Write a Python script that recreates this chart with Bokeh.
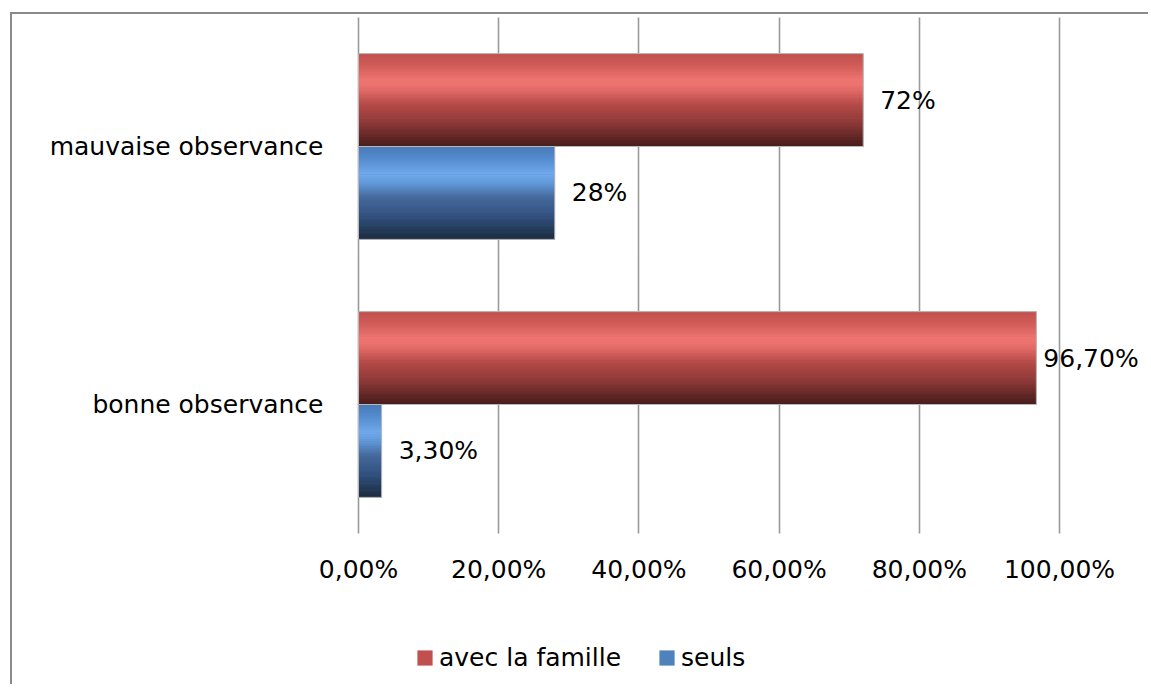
from bokeh.plotting import figure
from bokeh.models import (ColumnDataSource, Range1d, FixedTicker,
                          LabelSet, Legend, LegendItem)
from bokeh.core.properties import value
from bokeh.embed import file_html
from bokeh.resources import INLINE

# ---------------- data ----------------
categories = ["mauvaise observance", "bonne observance"]
avec_famille = [0.72, 0.967]
seuls = [0.28, 0.033]
avec_famille_labels = ["72%", "96,70%"]
seuls_labels = ["28%", "3,30%"]
tick_values = [0.0, 0.2, 0.4, 0.6, 0.8, 1.0]
tick_labels = ["0,00%", "20,00%", "40,00%", "60,00%", "80,00%", "100,00%"]
series_names = ["avec la famille", "seuls"]

# ---------------- style ----------------
FONT = "DejaVu Sans"
FS = "25px"
BAR_H = 0.36
N_STRIPS = 40

red_stops = [(0.0, "#c0504d"), (0.12, "#cf5b57"), (0.30, "#f07672"), (0.40, "#e26a66"),
             (0.55, "#b44a47"), (0.75, "#8c3937"), (0.92, "#5a2423"), (1.0, "#4a1d1d")]
blue_stops = [(0.0, "#4a7ab8"), (0.12, "#5389cd"), (0.30, "#70a9ec"), (0.40, "#6098d8"),
              (0.55, "#45699c"), (0.75, "#325180"), (0.92, "#213752"), (1.0, "#1b2b41")]


def hex2rgb(h):
    h = h.lstrip("#")
    return tuple(int(h[i:i + 2], 16) for i in (0, 2, 4))


def grad(stops, t):
    for (t0, c0), (t1, c1) in zip(stops[:-1], stops[1:]):
        if t0 <= t <= t1:
            f = (t - t0) / (t1 - t0) if t1 > t0 else 0
            a, b = hex2rgb(c0), hex2rgb(c1)
            return "#%02x%02x%02x" % tuple(round(a[i] + (b[i] - a[i]) * f) for i in range(3))
    return stops[-1][1]


# ---------------- layout (pixels) ----------------
W, H = 1138, 672
X0_PX, X_UNIT_PX = 346, 701.0        # 0 % position inside canvas, px per 100 %
Y0_PX, Y_UNIT_PX = 519, 258.0        # baseline (from canvas top), px per category band
n_cat = len(categories)
x_range = Range1d(-X0_PX / X_UNIT_PX, (W - X0_PX) / X_UNIT_PX)
y_range = Range1d(-(H - Y0_PX) / Y_UNIT_PX, Y0_PX / Y_UNIT_PX)

p = figure(width=W, height=H, x_range=x_range, y_range=y_range,
           output_backend="svg", toolbar_location=None,
           min_border_left=0, min_border_right=0, min_border_top=0, min_border_bottom=0)
p.styles = {"border-left": "2px solid #8a8a8a", "border-top": "2px solid #8a8a8a",
            "margin-top": "12px", "margin-left": "10px"}
p.outline_line_color = None
p.background_fill_color = "white"
p.border_fill_color = "white"

# category centres (top category first)
y_pos = [n_cat - i - 0.5 for i in range(n_cat)]

# grid (only over the plot area)
p.ygrid.grid_line_color = None
p.xgrid.ticker = FixedTicker(ticks=tick_values)
p.xgrid.grid_line_color = "#9a9a9a"
p.xgrid.grid_line_width = 1.6
p.xgrid.cross_bounds = (0, n_cat)

# x axis inside the frame at y = 0
p.xaxis.fixed_location = 0
p.xaxis.ticker = FixedTicker(ticks=tick_values)
p.xaxis.major_label_overrides = {v: l for v, l in zip(tick_values, tick_labels)}
p.xaxis.axis_line_color = None
p.xaxis.major_tick_line_color = None
p.xaxis.minor_tick_line_color = None
p.xaxis.major_label_standoff = 15
p.xaxis.major_label_text_font = FONT
p.xaxis.major_label_text_font_size = FS
p.xaxis.major_label_text_color = "black"

# y axis inside the frame at x = 0
p.yaxis.fixed_location = 0
p.yaxis.ticker = FixedTicker(ticks=y_pos)
p.yaxis.major_label_overrides = {y: c for y, c in zip(y_pos, categories)}
p.yaxis.axis_line_color = None
p.yaxis.major_tick_line_color = None
p.yaxis.minor_tick_line_color = None
p.yaxis.major_label_standoff = 29
p.yaxis.major_label_text_font = FONT
p.yaxis.major_label_text_font_size = FS
p.yaxis.major_label_text_color = "black"

legend_items = []
series = [
    (avec_famille, avec_famille_labels, BAR_H / 2, red_stops, "#c0504d", series_names[0]),
    (seuls, seuls_labels, -BAR_H / 2, blue_stops, "#4f81bd", series_names[1]),
]
for vals, labels, off, stops, base_col, name in series:
    yc = [y + off for y in y_pos]
    src = ColumnDataSource(dict(
        cat=categories, y=yc, val=vals, lab=labels,
        xoff=[7 if v > 0.9 else 17 for v in vals],
    ))
    base = p.hbar(y="y", left=0, right="val", height=BAR_H, source=src,
                  fill_color=base_col, line_color=None)
    legend_items.append(LegendItem(label=name, renderers=[base]))
    h = BAR_H / N_STRIPS
    for k in range(N_STRIPS):
        t = (k + 0.5) / N_STRIPS
        ys = [y + BAR_H / 2 - (k + 0.5) * h for y in yc]
        s = ColumnDataSource(dict(y=ys, val=vals))
        p.hbar(y="y", left=0, right="val", height=h * 1.2, source=s,
               fill_color=grad(stops, t), line_color=None)
    p.hbar(y="y", left=0, right="val", height=BAR_H, source=src,
           fill_color=None, line_color="#b8b8b8", line_width=1)
    p.add_layout(LabelSet(x="val", y="y", text="lab", x_offset="xoff", source=src,
                          text_font=value(FONT), text_font_size=value(FS),
                          text_color="black", text_baseline="middle", text_align="left"))

legend = Legend(items=legend_items, orientation="horizontal", location=(403, 14),
                padding=0, margin=0, spacing=36, label_standoff=5,
                glyph_width=19, glyph_height=19,
                label_text_font=FONT, label_text_font_size=FS, label_text_color="black",
                border_line_color=None, background_fill_alpha=0)
p.add_layout(legend, "center")

open("out.html", "w").write(file_html(p, INLINE))
